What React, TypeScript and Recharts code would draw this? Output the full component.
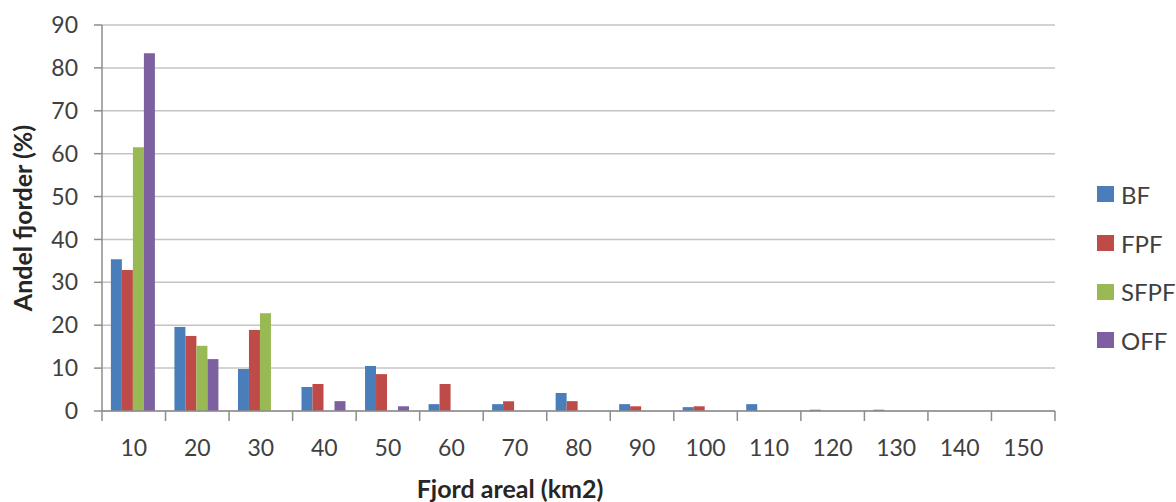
import React from 'react'
import { BarChart, Bar, XAxis, YAxis, CartesianGrid } from 'recharts'

const categories = ['10', '20', '30', '40', '50', '60', '70', '80', '90', '100', '110', '120', '130', '140', '150']
const bfValues = [35.4, 19.6, 9.8, 5.6, 10.5, 1.6, 1.6, 4.2, 1.6, 0.9, 1.6, 0.3, 0.3, 0, 0]
const fpfValues = [32.9, 17.5, 18.9, 6.3, 8.6, 6.3, 2.3, 2.3, 1.1, 1.1, 0, 0, 0, 0, 0]
const sfpfValues = [61.5, 15.2, 22.8, 0, 0, 0, 0, 0, 0, 0, 0, 0, 0, 0, 0]
const offValues = [83.4, 12.1, 0, 2.3, 1.1, 0, 0, 0, 0, 0, 0, 0, 0, 0, 0]
const yTicks = [0, 10, 20, 30, 40, 50, 60, 70, 80, 90]

const series = [
  { key: 'BF', color: '#4a7ebb' },
  { key: 'FPF', color: '#be4b48' },
  { key: 'SFPF', color: '#98b954' },
  { key: 'OFF', color: '#7d60a0' },
]

const data = categories.map((c, i) => ({
  cat: c,
  BF: bfValues[i],
  FPF: fpfValues[i],
  SFPF: sfpfValues[i],
  OFF: offValues[i],
}))

const W = 1176
const H = 502
const margin = { top: 25, right: 121, bottom: 0, left: 0 }
const Y_AXIS_W = 102
const X_AXIS_H = 91
const plotW = W - margin.left - margin.right - Y_AXIS_W
const band = plotW / categories.length
const font = 'Lato, "Open Sans", sans-serif'
const axisColor = '#8c8c8c'

function XTick(props: any) {
  const { x, y, payload, index } = props
  return (
    <g>
      <line x1={x - band / 2} x2={x - band / 2} y1={y} y2={y + 10} stroke={axisColor} strokeWidth={1.5} />
      {index === categories.length - 1 && (
        <line x1={x + band / 2} x2={x + band / 2} y1={y} y2={y + 10} stroke={axisColor} strokeWidth={1.5} />
      )}
      <text x={x} y={y + 45} textAnchor="middle" fill="#404040" fontSize={23} fontFamily={font}>
        {payload.value}
      </text>
    </g>
  )
}

function YTitle(props: any) {
  const { viewBox } = props
  const cx = 22
  const cy = viewBox.y + viewBox.height / 2
  return (
    <text
      x={cx}
      y={cy}
      transform={`rotate(-90 ${cx} ${cy})`}
      textAnchor="middle"
      dominantBaseline="central"
      fill="#262626"
      fontSize={25}
      fontWeight="bold"
      fontFamily={font}
    >
      Andel fjorder (%)
    </text>
  )
}

function XTitle(props: any) {
  const { viewBox } = props
  return (
    <text
      x={510}
      y={viewBox.y + 87}
      textAnchor="middle"
      fill="#262626"
      fontSize={25}
      fontWeight="bold"
      fontFamily={font}
    >
      Fjord areal (km2)
    </text>
  )
}

export default function App() {
  return (
    <div style={{ position: 'absolute', left: 0, top: 0, width: W, height: H, background: '#fff' }}>
      <BarChart width={W} height={H} data={data} margin={margin} barGap={0} barCategoryGap="14%">
        <CartesianGrid vertical={false} stroke="#c4c4c4" strokeWidth={1.5} />
        <XAxis
          dataKey="cat"
          height={X_AXIS_H}
          stroke={axisColor}
          strokeWidth={1.5}
          tickLine={false}
          tickSize={0}
          tickMargin={0}
          interval={0}
          tick={<XTick />}
          label={<XTitle />}
        />
        <YAxis
          width={Y_AXIS_W}
          domain={[0, 90]}
          ticks={yTicks}
          stroke={axisColor}
          strokeWidth={1.5}
          tickSize={8}
          tickMargin={16}
          tick={{ fill: '#404040', fontSize: 23, fontFamily: font }}
          label={<YTitle />}
        />
        {series.map(s => (
          <Bar key={s.key} dataKey={s.key} fill={s.color} isAnimationActive={false} />
        ))}
      </BarChart>
      <div style={{ position: 'absolute', left: 1097, top: 170, fontFamily: font, fontSize: 24, color: '#404040' }}>
        {series.map(s => (
          <div key={s.key} style={{ display: 'flex', alignItems: 'center', height: 48.7 }}>
            <span style={{ display: 'inline-block', width: 17, height: 16, background: s.color, marginRight: 7 }} />
            <span>{s.key}</span>
          </div>
        ))}
      </div>
    </div>
  )
}
